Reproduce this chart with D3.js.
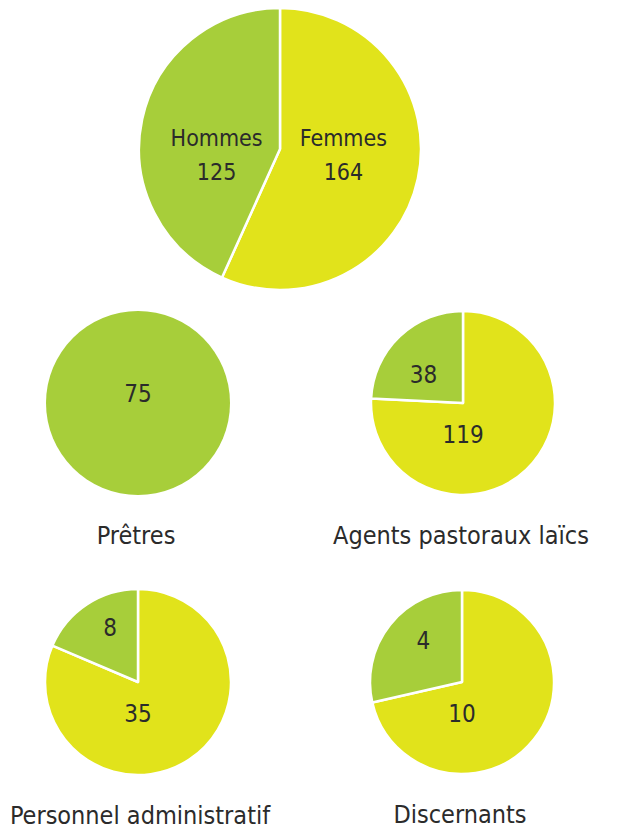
<!DOCTYPE html>
<html lang="fr">
<head>
<meta charset="utf-8">
<script src="https://cdnjs.cloudflare.com/ajax/libs/d3/7.8.5/d3.min.js"></script>
<style>
  body { margin: 0; background: #fff; }
  text { font-family: "DejaVu Sans Condensed", "Liberation Sans Narrow", "Roboto", sans-serif; fill: #2b2b2b; }
</style>
</head>
<body>
<div id="chart"></div>
<script>
  // data
  const groups = ["Total", "Prêtres", "Agents pastoraux laïcs", "Personnel administratif", "Discernants"];
  const femmes = [164, 0, 119, 35, 10];
  const hommes = [125, 75, 38, 8, 4];

  const colors = {Femmes: "#e1e31b", Hommes: "#a7ce3a"};

  const width = 626, height = 830;
  const svg = d3.select("#chart").append("svg")
    .attr("width", width)
    .attr("height", height);

  // layout of each pie: centre, radius, and where the small labels sit (as a fraction of r)
  const layout = [
    {cx: 280, cy: 149, r: 141, big: true},
    {cx: 138, cy: 403, r: 92, single: [0, -0.1]},
    {cx: 463, cy: 403, r: 92, minor: [-0.43, -0.31]},
    {cx: 138, cy: 682, r: 93, minor: [-0.3, -0.58]},
    {cx: 462, cy: 682, r: 92, minor: [-0.42, -0.45]}
  ];

  const pie = d3.pie().sort(null).value(d => d.value);

  groups.forEach((g, i) => {
    const L = layout[i];
    const rows = [
      {name: "Femmes", value: femmes[i]},
      {name: "Hommes", value: hommes[i]}
    ];
    const arcs = pie(rows).filter(d => d.data.value > 0);
    const arc = d3.arc().innerRadius(0).outerRadius(L.r);

    const gEl = svg.append("g").attr("transform", `translate(${L.cx},${L.cy})`);

    gEl.selectAll("path").data(arcs).enter().append("path")
      .attr("d", arc)
      .attr("fill", d => colors[d.data.name])
      .attr("stroke", arcs.length > 1 ? "#fff" : "none")
      .attr("stroke-width", 2.5)
      .attr("stroke-linejoin", "round");

    arcs.forEach(d => {
      let x, y;
      if (L.big) {
        x = d3.arc().innerRadius(L.r * 0.46).outerRadius(L.r * 0.46).centroid(d)[0];
        const t = gEl.append("text").attr("text-anchor", "middle").style("font-size", "23px");
        t.append("tspan").attr("x", x).attr("y", -3).text(d.data.name);
        t.append("tspan").attr("x", x).attr("y", 31).text(d3.format("d")(d.data.value));
        return;
      }
      if (arcs.length === 1) { x = L.single[0] * L.r; y = L.single[1] * L.r; }
      else if (d.data.name === "Femmes") { x = 0; y = L.r * 0.34; }
      else { x = L.minor[0] * L.r; y = L.minor[1] * L.r; }
      gEl.append("text")
        .attr("x", x).attr("y", y)
        .attr("dy", "0.35em")
        .attr("text-anchor", "middle")
        .style("font-size", "24px")
        .text(d.data.value);
    });

    if (!L.big) {
      svg.append("text")
        .attr("x", L.cx + (i === 3 ? 2 : -2))
        .attr("y", L.cy + L.r + 49)
        .attr("text-anchor", "middle")
        .style("font-size", "25px")
        .text(g);
    }
  });
</script>
</body>
</html>
